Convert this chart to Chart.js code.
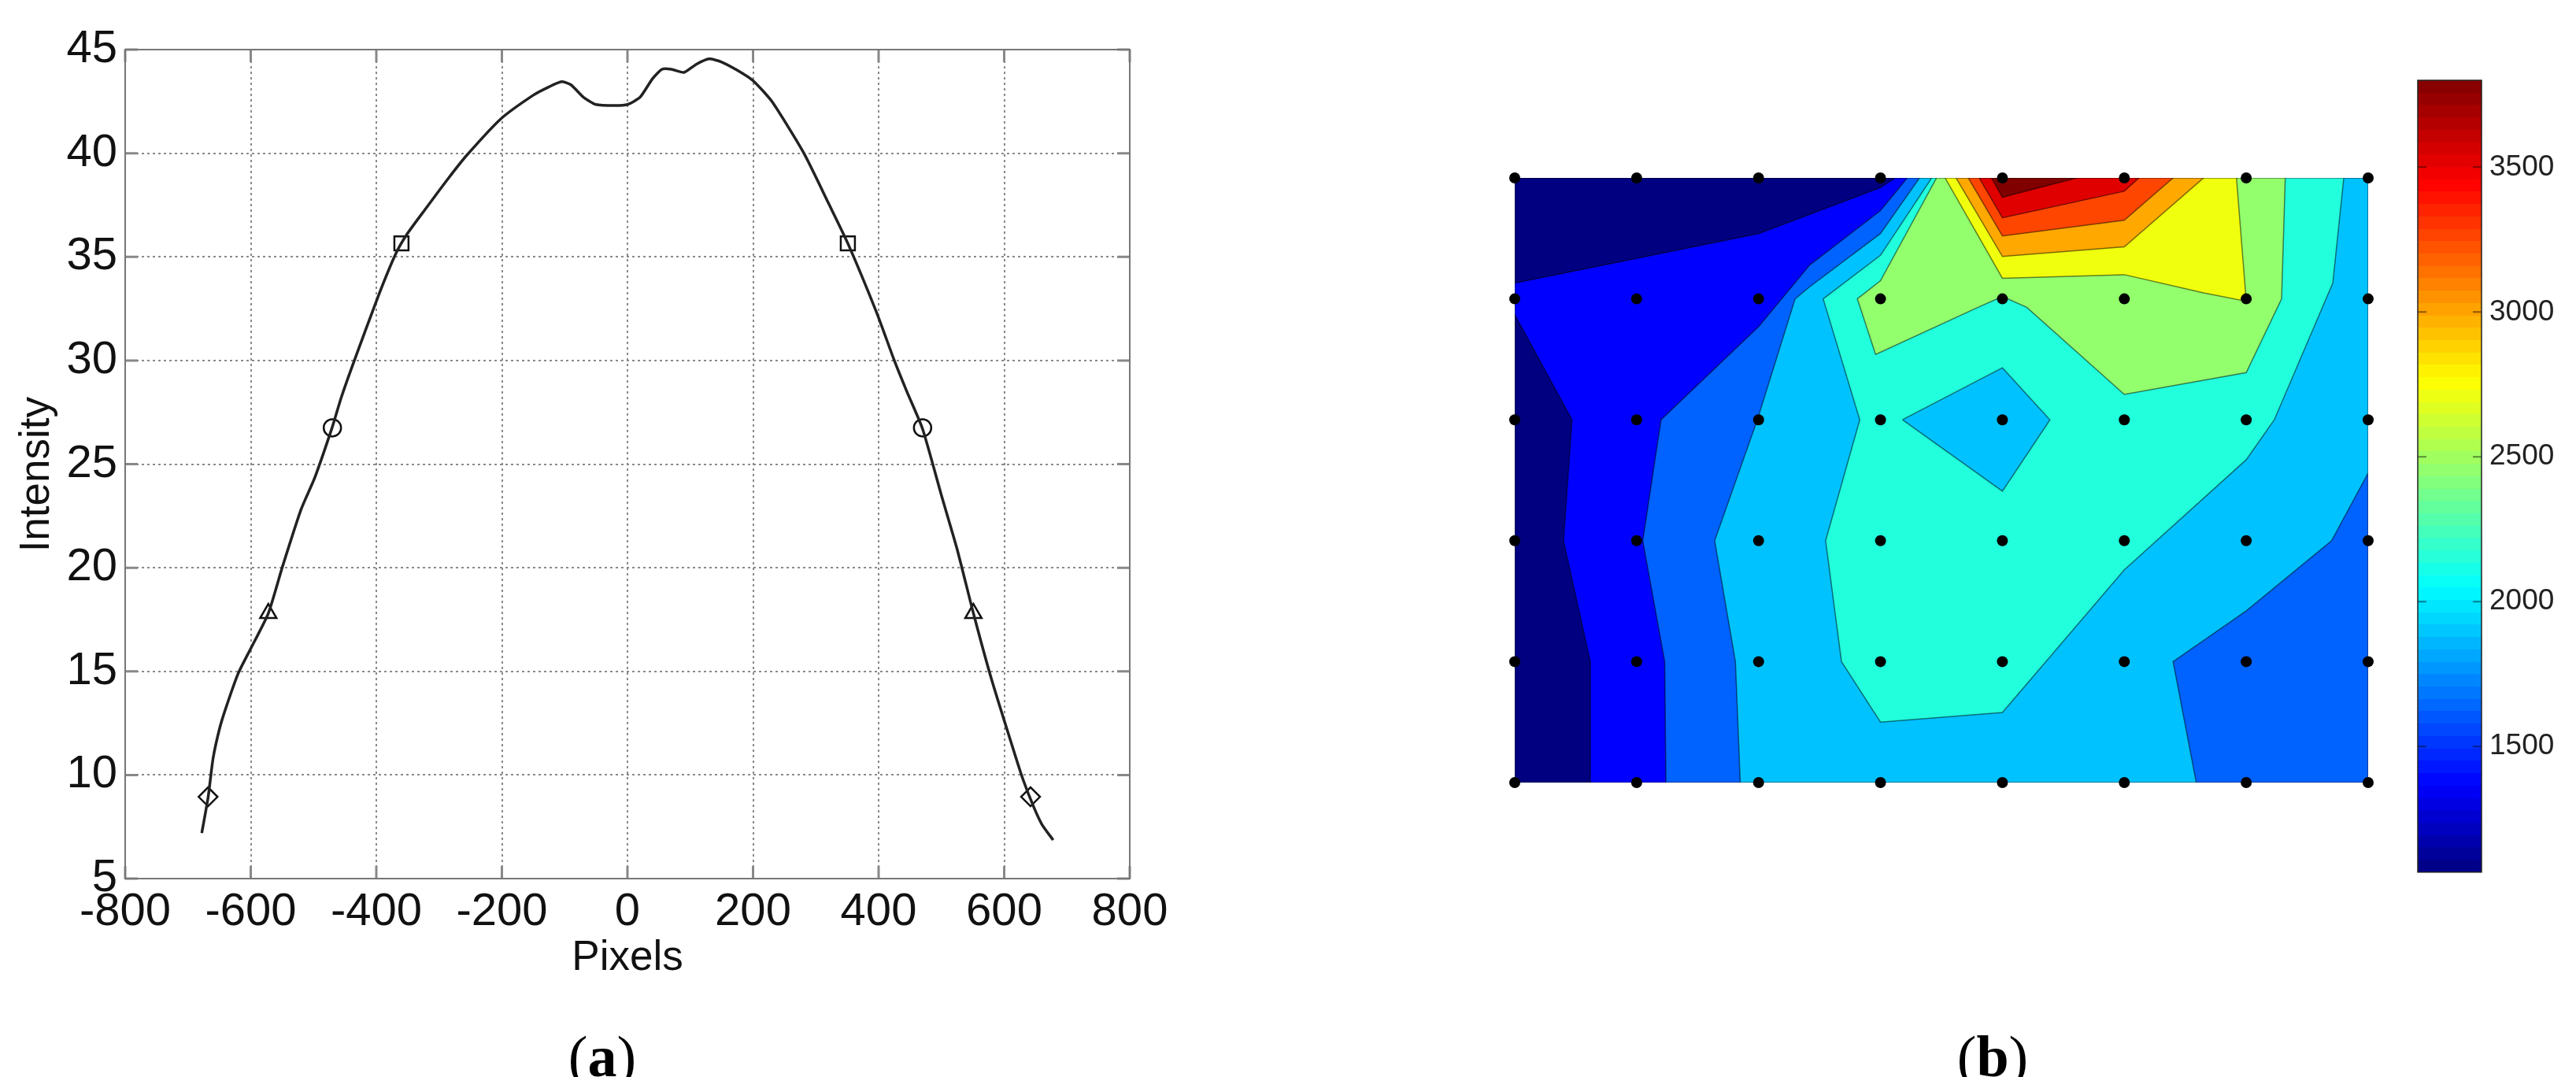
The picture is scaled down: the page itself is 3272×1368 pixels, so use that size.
<!DOCTYPE html>
<html>
<head>
<meta charset="utf-8">
<title>Intensity profile and contour map</title>
<script src="https://cdn.jsdelivr.net/npm/chart.js@4/dist/chart.umd.js"></script>
<style>
  html, body { margin: 0; padding: 0; background: #fff; }
  #page { position: relative; width: 3272px; height: 1368px; overflow: hidden; }
  canvas { position: absolute; }
  #profile { left: 0px; top: 0px; }
  #contour { left: 1884px; top: 0px; }
  #colorbar { left: 3050px; top: 0px; }
  .cap { position: absolute; top: 1306px; width: 200px; text-align: center; color: #000;
         font: 74px "Liberation Serif", serif; line-height: 72px; }
</style>
</head>
<body>
<div id="page">
  <canvas id="profile" width="1500" height="1249"></canvas>
  <canvas id="contour" width="1160" height="1040"></canvas>
  <canvas id="colorbar" width="222" height="1140"></canvas>
  <div class="cap" style="left:665px">(<b>a</b>)</div>
  <div class="cap" style="left:2431px">(<b>b</b>)</div>
</div>
<script>
// ---- panel (a): intensity profile ----
const profileX = [-678, -668, -660, -650, -640, -620, -600, -572, -550, -520, -498, -470, -456, -435, -397, -369, -351, -322, -285, -256, -202, -150, -125, -105, -90, -70, -50, -20, 0, 20, 40, 55, 70, 90, 110, 130, 150, 175, 200, 230, 281, 320, 351, 397, 425, 445, 470, 500, 525, 551, 580, 618, 631, 647, 660, 678];
const profileY = [7.2, 8.9, 10.8, 12.2, 13.2, 14.9, 16.1, 17.8, 20, 22.8, 24.35, 26.8, 28.2, 30, 33.1, 35.15, 36.1, 37.3, 38.8, 39.9, 41.65, 42.8, 43.2, 43.45, 43.3, 42.7, 42.35, 42.3, 42.35, 42.7, 43.6, 44.05, 44.05, 43.9, 44.3, 44.55, 44.4, 44, 43.5, 42.5, 40, 37.6, 35.65, 32.3, 30, 28.5, 26.7, 23.5, 20.9, 17.8, 14.6, 10.9, 9.7, 8.46, 7.62, 6.86];
const squareX = [-360, 351], squareY = [35.65, 35.65];
const circleX = [-470, 470], circleY = [26.75, 26.75];
const triangleX = [-572, 551], triangleY = [17.8, 17.8];
const diamondX = [-668, 642], diamondY = [8.95, 8.95];

// ---- panel (b): contour bands in grid units (col, row), lowest level first ----
const gridCols = [0, 1, 2, 3, 4, 5, 6, 7];
const gridRows = [0, 1, 2, 3, 4, 5];
const bandColors = ["#000080", "#0000ff", "#0062ff", "#00c2ff", "#22ffdd", "#93ff6c", "#f0ff0e", "#ffa800", "#ff4600", "#e00000", "#800000"];
const band0 = [[0,0],[7,0],[7,5],[0,5]];
const band1 = [[0,4.13],[2,4.54],[2.16,4.6],[3,4.92],[3.12,5],[7,5],[7,0],[0.62,0],[0.62,1],[0.4,2],[0.47,3],[0,3.87]];
const band2 = [[3.22,5],[3,4.73],[2.42,4.28],[2,3.77],[1.2,3],[1.05,2],[1.23,1],[1.24,0],[7,0],[7,5]];
const band3 = [[3.32,5],[3,4.54],[2.42,4.1],[2.3,4],[1.99,3],[1.64,2],[1.81,1],[1.85,0],[5.59,0],[5.4,1],[6,1.42],[6.7,2],[7,2.56],[7,5]];
const band4 = [[3.42,5],[3,4.36],[2.53,4],[2.83,3],[2.55,2],[2.68,1],[3,0.5],[4,0.58],[5,1.76],[6,2.67],[6.23,3],[6.71,4.13],[6.8,5]];
const hole3 = [[3.18,3],[4,3.43],[4.39,3],[4,2.41]];
const band5 = [[3.46,5],[3,4.15],[2.81,4],[2.96,3.54],[3.8,3.93],[4,4.02],[4.2,3.93],[5,3.21],[6,3.39],[6.29,4],[6.32,5]];
const band6 = [[3.53,5],[4,4.17],[5,4.2],[5.65,4.05],[6,3.98],[5.92,5]];
const band7 = [[3.62,5],[4,4.35],[5,4.43],[5.65,5]];
const band8 = [[3.72,5],[4,4.52],[5,4.65],[5.4,5]];
const band9 = [[3.81,5],[4,4.67],[5,4.89],[5.12,5]];
const band10 = [[3.91,5],[4,4.84],[4.61,5]];

// ---- colour bar ----
const cbMin = 1066, cbMax = 3800;
const cbTicks = [1500, 2000, 2500, 3000, 3500];
const jetKeys = [[0, 0, 0, 128], [0.11, 0, 0, 255], [0.36, 0, 255, 255], [0.62, 255, 255, 0], [0.87, 255, 0, 0], [1, 128, 0, 0]];

const FONT = "'Liberation Sans', Arial, sans-serif";
Chart.defaults.font.family = FONT;
Chart.defaults.color = "#111";
Chart.defaults.animation = false;

// matlab style box with inward ticks on all four sides, placed through the scales
const boxTicks = {
  id: "boxTicks",
  afterDatasetsDraw(chart, args, o) {
    const { ctx, chartArea: a, scales } = chart;
    ctx.save();
    ctx.strokeStyle = o.tickColor;
    ctx.lineWidth = o.tickWidth;
    ctx.beginPath();
    if (scales.x && scales.x.options.display) scales.x.ticks.forEach((t) => {
      const px = scales.x.getPixelForValue(t.value);
      ctx.moveTo(px, a.bottom); ctx.lineTo(px, a.bottom - o.len);
      ctx.moveTo(px, a.top); ctx.lineTo(px, a.top + o.len);
    });
    scales.y.ticks.forEach((t) => {
      const py = scales.y.getPixelForValue(t.value);
      ctx.moveTo(a.left, py); ctx.lineTo(a.left + o.len, py);
      ctx.moveTo(a.right, py); ctx.lineTo(a.right - o.len, py);
    });
    ctx.stroke();
    ctx.strokeStyle = o.color;
    ctx.lineWidth = o.width;
    ctx.strokeRect(a.left, a.top, a.right - a.left, a.bottom - a.top);
    ctx.restore();
  },
};

// fills a dataset's closed outline from the points the library has placed
const polyFill = {
  id: "polyFill",
  beforeDatasetDraw(chart, args) {
    const ds = chart.data.datasets[args.index];
    if (!ds.polygon) return;
    const { ctx } = chart;
    ctx.save();
    ctx.fillStyle = ds.polygon;
    ctx.beginPath();
    args.meta.data.forEach((pt, i) => (i ? ctx.lineTo(pt.x, pt.y) : ctx.moveTo(pt.x, pt.y)));
    ctx.closePath();
    ctx.fill();
    ctx.restore();
  },
};

// y title sits a little below the middle of the axis in the original
const yTitle = {
  id: "yTitle",
  afterDraw(chart) {
    const { ctx, scales } = chart;
    ctx.save();
    ctx.translate(47, scales.y.getPixelForValue(24.5));
    ctx.rotate(-Math.PI / 2);
    ctx.font = "53px " + FONT;
    ctx.fillStyle = "#111";
    ctx.textAlign = "center";
    ctx.textBaseline = "middle";
    ctx.fillText("Intensity", 0, 0);
    ctx.restore();
  },
};

const pairs = (xs, ys) => xs.map((x, i) => ({ x, y: ys[i] }));
const marker = (label, xs, ys, style, r) => ({
  label, data: pairs(xs, ys), showLine: false, pointStyle: style, pointRadius: r,
  pointBorderColor: "#111", pointBackgroundColor: "transparent", pointBorderWidth: 2.5,
});

new Chart(document.getElementById("profile"), {
  type: "scatter",
  data: {
    datasets: [
      { label: "Intensity", data: pairs(profileX, profileY), showLine: true, borderColor: "#222", borderWidth: 3.5, pointRadius: 0, tension: 0.2 },
      marker("square", squareX, squareY, "rect", 12.7),
      marker("circle", circleX, circleY, "circle", 11),
      marker("triangle", triangleX, triangleY, "triangle", 12),
      marker("diamond", diamondX, diamondY, "rectRot", 12),
    ],
  },
  options: {
    responsive: false,
    layout: { padding: { top: 63, right: 65, left: 0, bottom: 0 } },
    plugins: { legend: { display: false }, tooltip: { enabled: false },
      boxTicks: { color: "#777", width: 2, tickColor: "#888", tickWidth: 3, len: 16 } },
    scales: {
      x: {
        min: -800, max: 800,
        afterFit: (s) => { s.height = 133; },
        ticks: { stepSize: 200, maxRotation: 0, autoSkip: false, padding: 8, font: { size: 58 }, callback: (v) => String(v) },
        grid: { color: "#8a8a8a", lineWidth: 2, drawTicks: false },
        border: { dash: [3, 4], display: false },
        title: { display: true, text: "Pixels", font: { size: 53 }, color: "#111", padding: 0 },
      },
      y: {
        min: 5, max: 45,
        afterFit: (s) => { s.width = 159; },
        ticks: { stepSize: 5, autoSkip: false, padding: 10, font: { size: 58 }, callback: (v) => String(v) },
        grid: { color: "#8a8a8a", lineWidth: 2, drawTicks: false },
        border: { dash: [3, 4], display: false },
      },
    },
  },
  plugins: [polyFill, boxTicks, yTitle],
});

const bands = [band0, band1, band2, band3, band4, band5, band6, band7, band8, band9, band10];
const toPts = (poly) => poly.concat([poly[0]]).map((p) => ({ x: p[0], y: p[1] }));
const outline = (name, poly, color, order) => ({
  label: name, data: toPts(poly), showLine: true, polygon: color, order,
  borderColor: "rgba(0,0,0,0.5)", borderWidth: 1.5, pointRadius: 0, tension: 0,
});
const contourSets = bands.map((b, i) => outline("level " + i, b, bandColors[i], 100 - i * 2));
contourSets.push(outline("level 3 pocket", hole3, bandColors[3], 100 - 9));
contourSets.push({
  label: "grid", order: 0, clip: false, showLine: false,
  data: gridRows.flatMap((y) => gridCols.map((x) => ({ x, y }))),
  pointRadius: 7, pointBackgroundColor: "#000", pointBorderWidth: 0,
});

new Chart(document.getElementById("contour"), {
  type: "scatter",
  data: { datasets: contourSets },
  options: {
    responsive: false,
    layout: { padding: { left: 40, top: 226, right: 36, bottom: 46 } },
    plugins: { legend: { display: false }, tooltip: { enabled: false } },
    scales: {
      x: { display: false, min: 0, max: 7 },
      y: { display: false, min: 0, max: 5 },
    },
  },
  plugins: [polyFill],
});

// jet colour map in 64 flat steps, as the colour bar shows it
function jetAt(t) {
  let i = 0;
  while (i < jetKeys.length - 2 && t > jetKeys[i + 1][0]) i++;
  const a = jetKeys[i], b = jetKeys[i + 1], f = (t - a[0]) / (b[0] - a[0]);
  return "rgb(" + [1, 2, 3].map((k) => Math.round(a[k] + (b[k] - a[k]) * f)).join(",") + ")";
}
function jetGradient(c) {
  const a = c.chart.chartArea;
  if (!a) return "#000080";
  const g = c.chart.ctx.createLinearGradient(0, a.bottom, 0, a.top);
  for (let i = 0; i < 64; i++) {
    g.addColorStop(i / 64, jetAt((i + 0.5) / 64));
    g.addColorStop((i + 1) / 64, jetAt((i + 0.5) / 64));
  }
  return g;
}

new Chart(document.getElementById("colorbar"), {
  type: "bar",
  data: {
    labels: ["levels"],
    datasets: [{ label: "levels", data: [[cbMin, cbMax]], backgroundColor: jetGradient, barPercentage: 1, categoryPercentage: 1, borderSkipped: false }],
  },
  options: {
    responsive: false,
    layout: { padding: { left: 21, top: 102, right: 0, bottom: 28 } },
    plugins: { legend: { display: false }, tooltip: { enabled: false },
      boxTicks: { color: "#222", width: 1.5, tickColor: "rgba(0,0,0,0.45)", tickWidth: 2, len: 11 } },
    scales: {
      x: { display: false },
      y: {
        position: "right",
        min: cbMin, max: cbMax,
        afterBuildTicks: (s) => { s.ticks = cbTicks.map((value) => ({ value })); },
        afterFit: (s) => { s.width = 120; },
        ticks: { autoSkip: false, padding: 10, font: { size: 37 }, color: "#222", callback: (v) => String(v) },
        grid: { display: false, drawTicks: false },
        border: { display: false },
      },
    },
  },
  plugins: [boxTicks],
});
</script>
</body>
</html>
